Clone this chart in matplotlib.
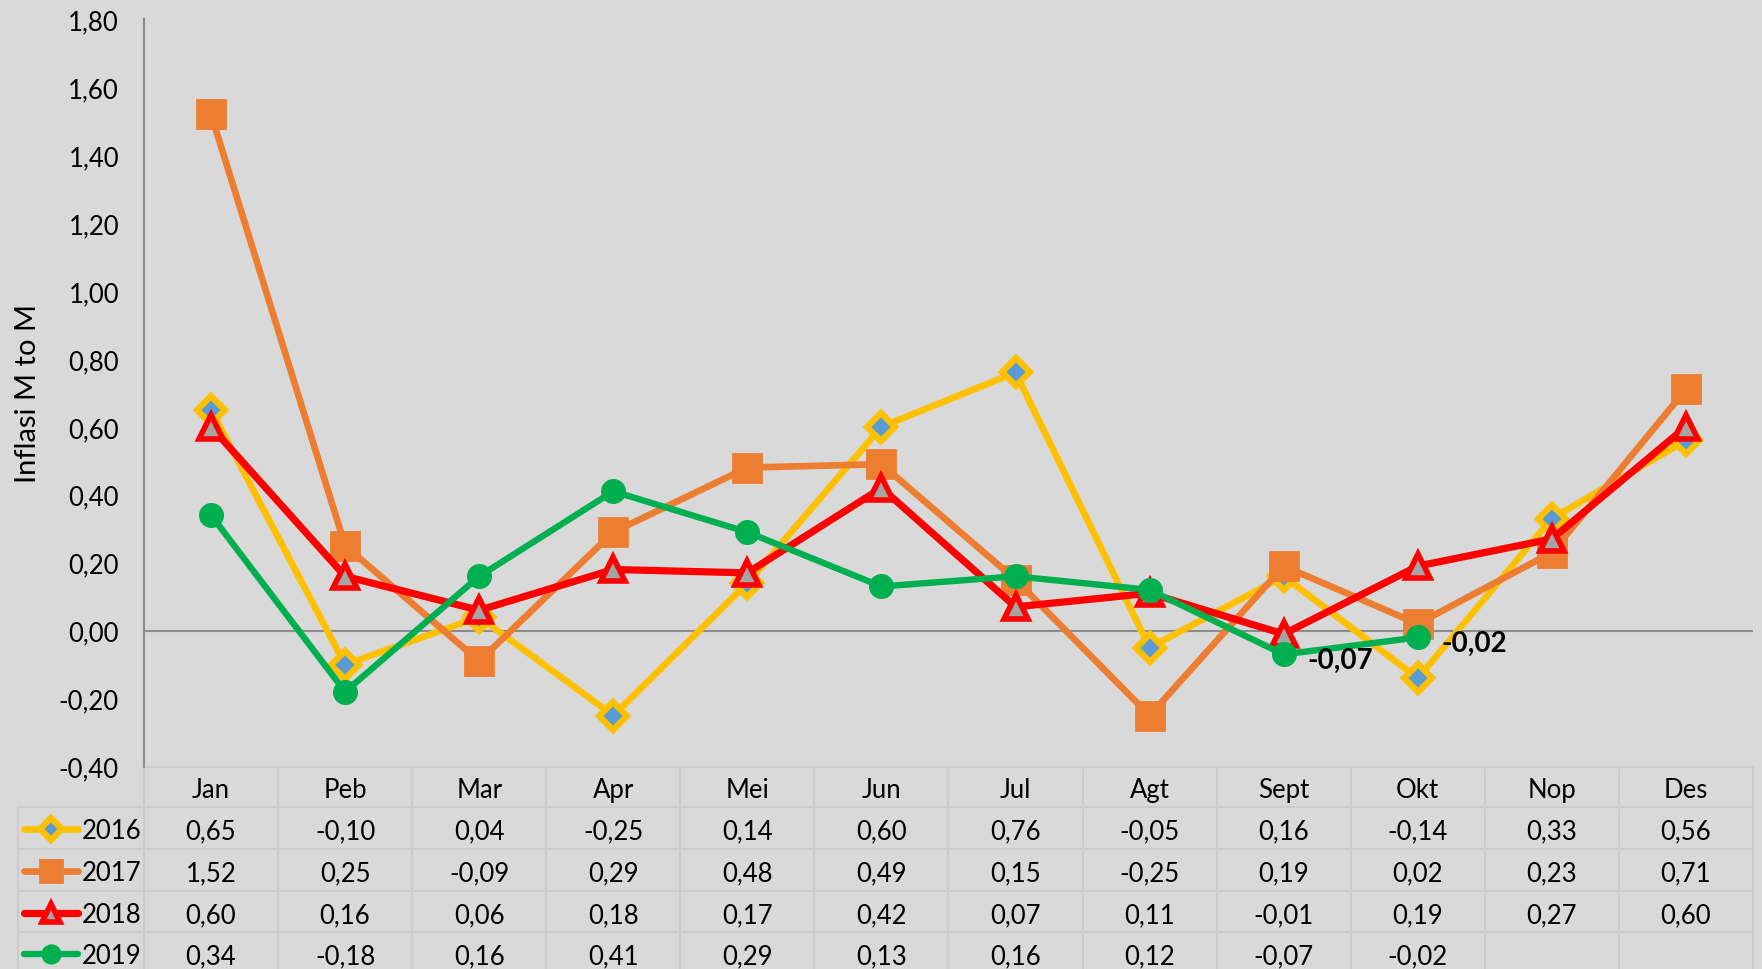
import numpy as np
import matplotlib
matplotlib.use("Agg")
import matplotlib.pyplot as plt
from matplotlib.ticker import FuncFormatter
from matplotlib.transforms import blended_transform_factory

plt.rcParams['font.family'] = ['Lato', 'DejaVu Sans']

months = ['Jan', 'Peb', 'Mar', 'Apr', 'Mei', 'Jun', 'Jul', 'Agt', 'Sept', 'Okt', 'Nop', 'Des']
years = ['2016', '2017', '2018', '2019']
v2016 = [0.65, -0.10, 0.04, -0.25, 0.14, 0.60, 0.76, -0.05, 0.16, -0.14, 0.33, 0.56]
v2017 = [1.52, 0.25, -0.09, 0.29, 0.48, 0.49, 0.15, -0.25, 0.19, 0.02, 0.23, 0.71]
v2018 = [0.60, 0.16, 0.06, 0.18, 0.17, 0.42, 0.07, 0.11, -0.01, 0.19, 0.27, 0.60]
v2019 = [0.34, -0.18, 0.16, 0.41, 0.29, 0.13, 0.16, 0.12, -0.07, -0.02, np.nan, np.nan]
labelled_2019 = [8, 9]   # Sept, Okt

bg = '#D9D9D9'
grid_c = '#CBCBCB'
fs = 18.5

styles = {
    '2016': dict(color='#FFC000', lw=4.8, marker='D', ms=14, mfc='#5B9BD5', mec='#FFC000', mew=4.5),
    '2017': dict(color='#ED7D31', lw=4.8, marker='s', ms=20, mfc='#ED7D31', mec='#ED7D31', mew=2),
    '2018': dict(color='#FF0000', lw=5.2, marker='^', ms=17, mfc='#A5A5A5', mec='#FF0000', mew=4),
    '2019': dict(color='#00B050', lw=4.6, marker='o', ms=17, mfc='#00B050', mec='#00B050', mew=1),
}
series = {'2016': v2016, '2017': v2017, '2018': v2018, '2019': v2019}

fig = plt.figure(figsize=(17.62, 9.70), dpi=100, facecolor=bg)
ax = fig.add_axes([144 / 1762, 1 - 767.5 / 970, (1753 - 144) / 1762, (767.5 - 20.2) / 970])
ax.set_facecolor(bg)

x = np.arange(len(months))
for i, y in enumerate(years):
    ax.plot(x, series[y], zorder=3 + i, solid_joinstyle='round', **styles[y])

ax.axhline(0, color='#8C8C8C', lw=1.5, zorder=1)
for i in labelled_2019:
    v = v2019[i]
    ax.annotate(('%.2f' % v).replace('.', ','), (x[i], v), xytext=(17, -4),
                textcoords='offset points', ha='left', va='center',
                fontsize=20, fontweight='bold', color='black', zorder=10)

ax.set_xlim(-0.5, len(months) - 0.5)
ax.set_ylim(-0.40, 1.80)
ax.set_yticks(np.arange(-0.4, 1.81, 0.2))
ax.yaxis.set_major_formatter(FuncFormatter(lambda v, p: ('%.2f' % v).replace('.', ',').replace('-0,00', '0,00')))
ax.set_xticks([])
ax.tick_params(axis='y', length=0, pad=18, labelsize=fs)
for s in ['top', 'right', 'bottom']:
    ax.spines[s].set_visible(False)
ax.spines['left'].set_color('#8C8C8C')
ax.spines['left'].set_linewidth(1.5)
ax.set_ylabel('Inflasi M to M', fontsize=21)
ax.yaxis.set_label_coords(-0.064, 0.5)

# data table below the plot (pixel rows measured from the top of the figure)
H = 970
tr = blended_transform_factory(ax.transData, fig.dpi_scale_trans)
px = fig.dpi_scale_trans
row_top = [767.5, 808, 850, 892, 933, 975]
def yin(p):
    return (H - p) / 100.0

xl, xr = -0.5, len(months) - 0.5
# horizontal lines
ax.plot([xl, xr], [yin(row_top[0])] * 2, transform=tr, color=grid_c, lw=1.5, clip_on=False)
for r in row_top[1:5]:
    fig.add_artist(plt.Line2D([18 / 100, 1753 / 100], [yin(r)] * 2, transform=px, color=grid_c, lw=1.5))
# vertical lines
for b in np.arange(len(months) + 1) - 0.5:
    ax.plot([b, b], [yin(row_top[0]), yin(975)], transform=tr, color=grid_c, lw=1.5, clip_on=False)
fig.add_artist(plt.Line2D([18 / 100] * 2, [yin(808), yin(975)], transform=px, color=grid_c, lw=1.5))

# header
for i, m in enumerate(months):
    ax.text(i, yin((row_top[0] + row_top[1]) / 2 + 3), m, transform=tr, ha='center', va='center',
            fontsize=fs, clip_on=False)

for r, yname in enumerate(years):
    ymid = (row_top[r + 1] + row_top[r + 2]) / 2
    yc = yin(ymid + 3)
    for i, v in enumerate(series[yname]):
        if np.isnan(v):
            continue
        ax.text(i, yc, ('%.2f' % v).replace('.', ','), transform=tr, ha='center', va='center',
                fontsize=fs, clip_on=False)
    st = dict(styles[yname])
    st['ms'] = st['ms'] * 0.8
    fig.add_artist(plt.Line2D([24 / 100, 51 / 100, 78 / 100], [yin(ymid + 1)] * 3, transform=px, markevery=[1],
                              solid_capstyle='round', **st))
    fig.text(82 / 1762, yc / 9.70, yname, ha='left', va='center', fontsize=fs)

fig.savefig('out.png', dpi=100, facecolor=bg)
